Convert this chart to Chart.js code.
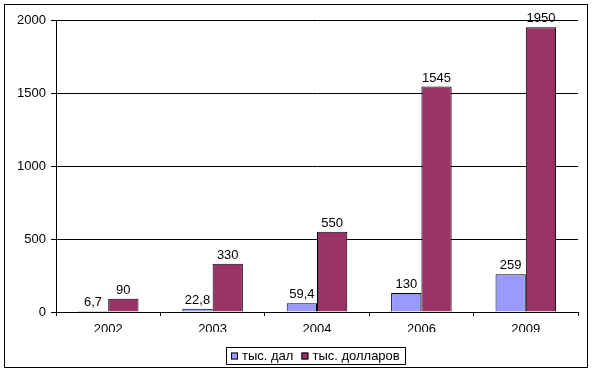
<!DOCTYPE html>
<html>
<head>
<meta charset="utf-8">
<script src="https://cdn.jsdelivr.net/npm/chart.js@4.4.1/dist/chart.umd.min.js"></script>
<style>
  html, body { margin: 0; padding: 0; background: #fff; }
  canvas { display: block; }
</style>
</head>
<body>
<canvas id="chart" width="593" height="372"></canvas>
<script>
// data
var years = ["2002", "2003", "2004", "2006", "2009"];
var volumeDal = [6.7, 22.8, 59.4, 130, 259];
var valueUsd = [90, 330, 550, 1545, 1950];
var seriesNames = ["тыс. дал", "тыс. долларов"];
var seriesColors = ["#9999FF", "#993366"];

var FONT = "'Liberation Sans', Arial, sans-serif";

// outer frame like the excel chart area
var framePlugin = {
  id: "frame",
  beforeDraw: function (chart) {
    var ctx = chart.ctx;
    ctx.save();
    ctx.fillStyle = "#fff";
    ctx.fillRect(0, 0, chart.width, chart.height);
    ctx.strokeStyle = "#000";
    ctx.lineWidth = 1;
    ctx.strokeRect(4.5, 4.5, 583, 363);
    ctx.restore();
  }
};

// numbers over the bars, comma as decimal mark
var valueLabels = {
  id: "valueLabels",
  afterDatasetsDraw: function (chart) {
    var ctx = chart.ctx;
    ctx.save();
    ctx.font = "13px " + FONT;
    ctx.fillStyle = "#000";
    ctx.textAlign = "center";
    ctx.textBaseline = "bottom";
    chart.data.datasets.forEach(function (ds, i) {
      var meta = chart.getDatasetMeta(i);
      meta.data.forEach(function (bar, j) {
        var txt = String(ds.data[j]).replace(".", ",");
        ctx.fillText(txt, bar.x, bar.y - 2);
      });
    });
    ctx.restore();
  }
};

// boxed legend under the axis
var boxLegend = {
  id: "boxLegend",
  afterDraw: function (chart) {
    var ctx = chart.ctx;
    var sets = chart.data.datasets;
    ctx.save();
    ctx.font = "13px " + FONT;
    var sq = 7, gapSq = 4, gapItem = 8, pad = 5;
    var total = pad * 2;
    var widths = sets.map(function (ds) { return ctx.measureText(ds.label).width; });
    widths.forEach(function (w, i) {
      total += sq + gapSq + w + (i < widths.length - 1 ? gapItem : 0);
    });
    total = Math.round(total);
    var area = chart.chartArea;
    var left = Math.round((area.left + area.right) / 2 - total / 2 - 2);
    var top = 347, h = 17;
    ctx.strokeStyle = "#000";
    ctx.lineWidth = 1;
    ctx.strokeRect(left + 0.5, top + 0.5, total, h);
    var x = left + pad;
    var cy = top + h / 2 + 0.5;
    ctx.textBaseline = "middle";
    ctx.textAlign = "left";
    sets.forEach(function (ds, i) {
      ctx.fillStyle = ds.backgroundColor;
      ctx.fillRect(x, cy - 3.5, sq, sq);
      ctx.strokeStyle = "#000";
      ctx.strokeRect(x + 0.5, cy - 3.5 + 0.5, sq - 1, sq - 1);
      x += sq + gapSq;
      ctx.fillStyle = "#000";
      ctx.fillText(ds.label, x, cy);
      x += widths[i] + gapItem;
    });
    ctx.restore();
  }
};

new Chart(document.getElementById("chart"), {
  type: "bar",
  data: {
    labels: years,
    datasets: [
      {
        label: seriesNames[0],
        data: volumeDal,
        backgroundColor: seriesColors[0],
        borderColor: "#000",
        borderWidth: 1,
        categoryPercentage: 0.58,
        barPercentage: 1
      },
      {
        label: seriesNames[1],
        data: valueUsd,
        backgroundColor: seriesColors[1],
        borderColor: "#000",
        borderWidth: 1,
        categoryPercentage: 0.58,
        barPercentage: 1
      }
    ]
  },
  options: {
    responsive: false,
    animation: false,
    devicePixelRatio: 1,
    layout: { padding: { left: 0, right: 15, top: 20, bottom: 40 } },
    plugins: {
      legend: { display: false },
      tooltip: { enabled: false }
    },
    scales: {
      x: {
        grid: { drawOnChartArea: false, drawTicks: true, tickLength: 4, color: "#000", offset: true },
        border: { color: "#000" },
        ticks: { color: "#000", font: { family: FONT, size: 13 }, padding: 6 },
        afterFit: function (s) { s.height = 20; }
      },
      y: {
        min: 0,
        max: 2000,
        grid: { color: "#000", tickLength: 5 },
        border: { color: "#000" },
        ticks: {
          stepSize: 500,
          color: "#000",
          padding: 5,
          font: { family: FONT, size: 13 },
          callback: function (v) { return String(v); }
        },
        afterFit: function (s) { s.width = 56; }
      }
    }
  },
  plugins: [framePlugin, valueLabels, boxLegend]
});
</script>
</body>
</html>
